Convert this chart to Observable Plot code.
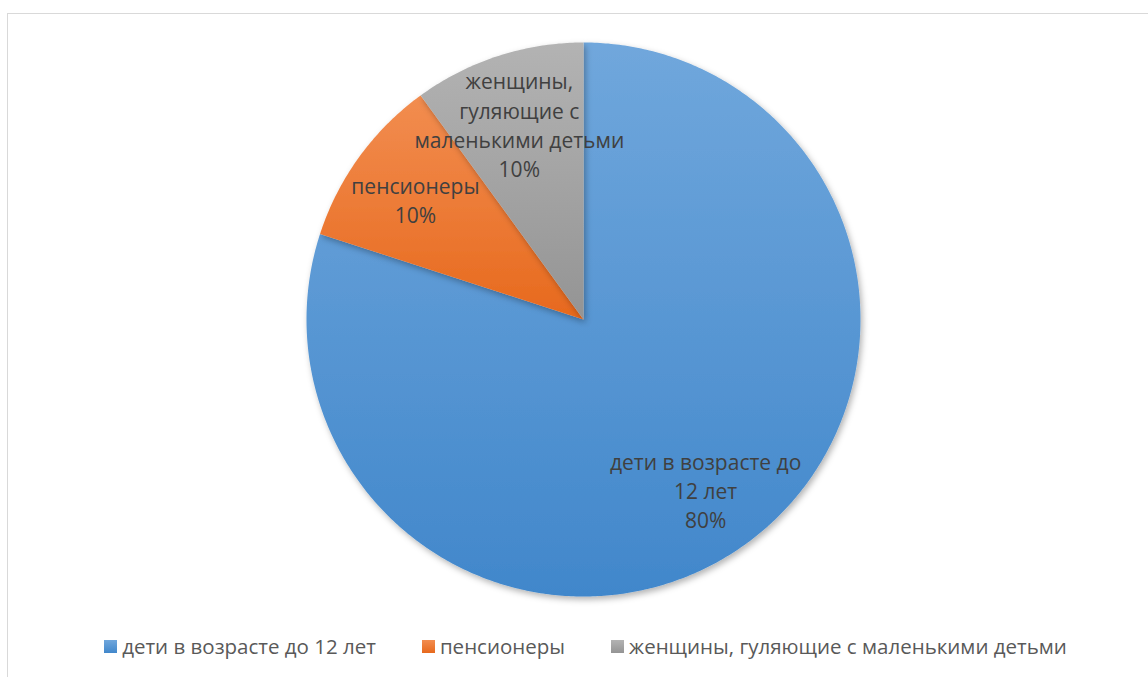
<!DOCTYPE html>
<html>
<head>
<meta charset="utf-8">
<script src="https://cdn.jsdelivr.net/npm/d3@7"></script>
<script src="https://cdn.jsdelivr.net/npm/@observablehq/plot@0.6"></script>
<style>
  html, body { margin: 0; padding: 0; background: #fff; }
  #wrap { position: relative; width: 1148px; height: 677px; overflow: hidden; font-family: "Open Sans", sans-serif; }
  #frame { position: absolute; left: 7px; top: 13px; width: 1160px; height: 700px; border: 1.5px solid #d9d9d9; box-sizing: border-box; }
  #chart { position: absolute; left: 0; top: 0; }
  #legend { position: absolute; left: 0; top: 632px; width: 1171px; display: flex; justify-content: center; gap: 0; font-size: 20.5px; color: #595959; }
  .item { display: flex; align-items: center; margin: 0 23px; white-space: nowrap; }
  .sw { width: 13px; height: 13px; margin-right: 5px; }
</style>
</head>
<body>
<div id="wrap">
  <div id="frame"></div>
  <div id="chart"></div>
  <div id="legend"></div>
</div>
<script>
const categories = ["дети в возрасте до 12 лет", "пенсионеры", "женщины, гуляющие с маленькими детьми"];
const values = [80, 10, 10];
const sliceLabels = ["дети в возрасте до\n12 лет\n80%", "пенсионеры\n10%", "женщины,\nгуляющие с\nмаленькими детьми\n10%"];
const colorTop = ["#70a7dc", "#f28d50", "#b3b3b3"];
const colorBottom = ["#4187cb", "#e7691d", "#949494"];

const arcs = d3.pie().sort(null).value(d => d)(values);

// polygon outline of each slice in unit circle coordinates (angle 0 = 12 o'clock, clockwise)
const slices = arcs.map((a, i) => {
  const n = Math.max(8, Math.ceil((a.endAngle - a.startAngle) / 0.01));
  const pts = [{x: 0, y: 0}];
  for (let k = 0; k <= n; k++) {
    const t = a.startAngle + (a.endAngle - a.startAngle) * k / n;
    pts.push({x: Math.sin(t), y: Math.cos(t)});
  }
  pts.push({x: 0, y: 0});
  return pts;
});

const labelPos = arcs.map((a, i) => {
  const m = (a.startAngle + a.endAngle) / 2;
  return {x: 0.75 * Math.sin(m), y: 0.75 * Math.cos(m), text: sliceLabels[i]};
});

const cx = 583, cy = 319, r = 277, W = 1148, H = 677;

const plot = Plot.plot({
  width: W,
  height: H,
  marginLeft: cx - r,
  marginRight: W - (cx + r),
  marginTop: cy - r,
  marginBottom: H - (cy + r),
  x: {domain: [-1, 1], axis: null},
  y: {domain: [-1, 1], axis: null},
  style: {background: "transparent", overflow: "visible"},
  marks: [
    ...slices.map((pts, i) => Plot.line(pts, {x: "x", y: "y", fill: `url(#g${i})`, stroke: "none", curve: "linear"})),
    Plot.text(labelPos, {x: "x", y: "y", text: "text", fill: "#404040", fontSize: 21, lineHeight: 1.4, lineAnchor: "middle", fontFamily: "Open Sans", dy: 2})
  ]
});

const svg = d3.select(plot);
const defs = svg.insert("defs", ":first-child");
colorTop.forEach((c, i) => {
  const g = defs.append("linearGradient").attr("id", `g${i}`).attr("x1", 0).attr("y1", 0).attr("x2", 0).attr("y2", 1);
  g.append("stop").attr("offset", "0%").attr("stop-color", c);
  g.append("stop").attr("offset", "100%").attr("stop-color", colorBottom[i]);
});
const f = defs.append("filter").attr("id", "shadow").attr("x", "-10%").attr("y", "-10%").attr("width", "130%").attr("height", "130%");
f.append("feDropShadow").attr("dx", 2).attr("dy", 3).attr("stdDeviation", 3).attr("flood-color", "#000").attr("flood-opacity", 0.3);
svg.selectAll('g[aria-label="line"]').attr("filter", "url(#shadow)");

document.getElementById("chart").appendChild(plot);

const legend = d3.select("#legend");
categories.forEach((c, i) => {
  const it = legend.append("div").attr("class", "item");
  it.append("div").attr("class", "sw").style("background", `linear-gradient(${colorTop[i]}, ${colorBottom[i]})`);
  it.append("span").text(c);
});
</script>
</body>
</html>
